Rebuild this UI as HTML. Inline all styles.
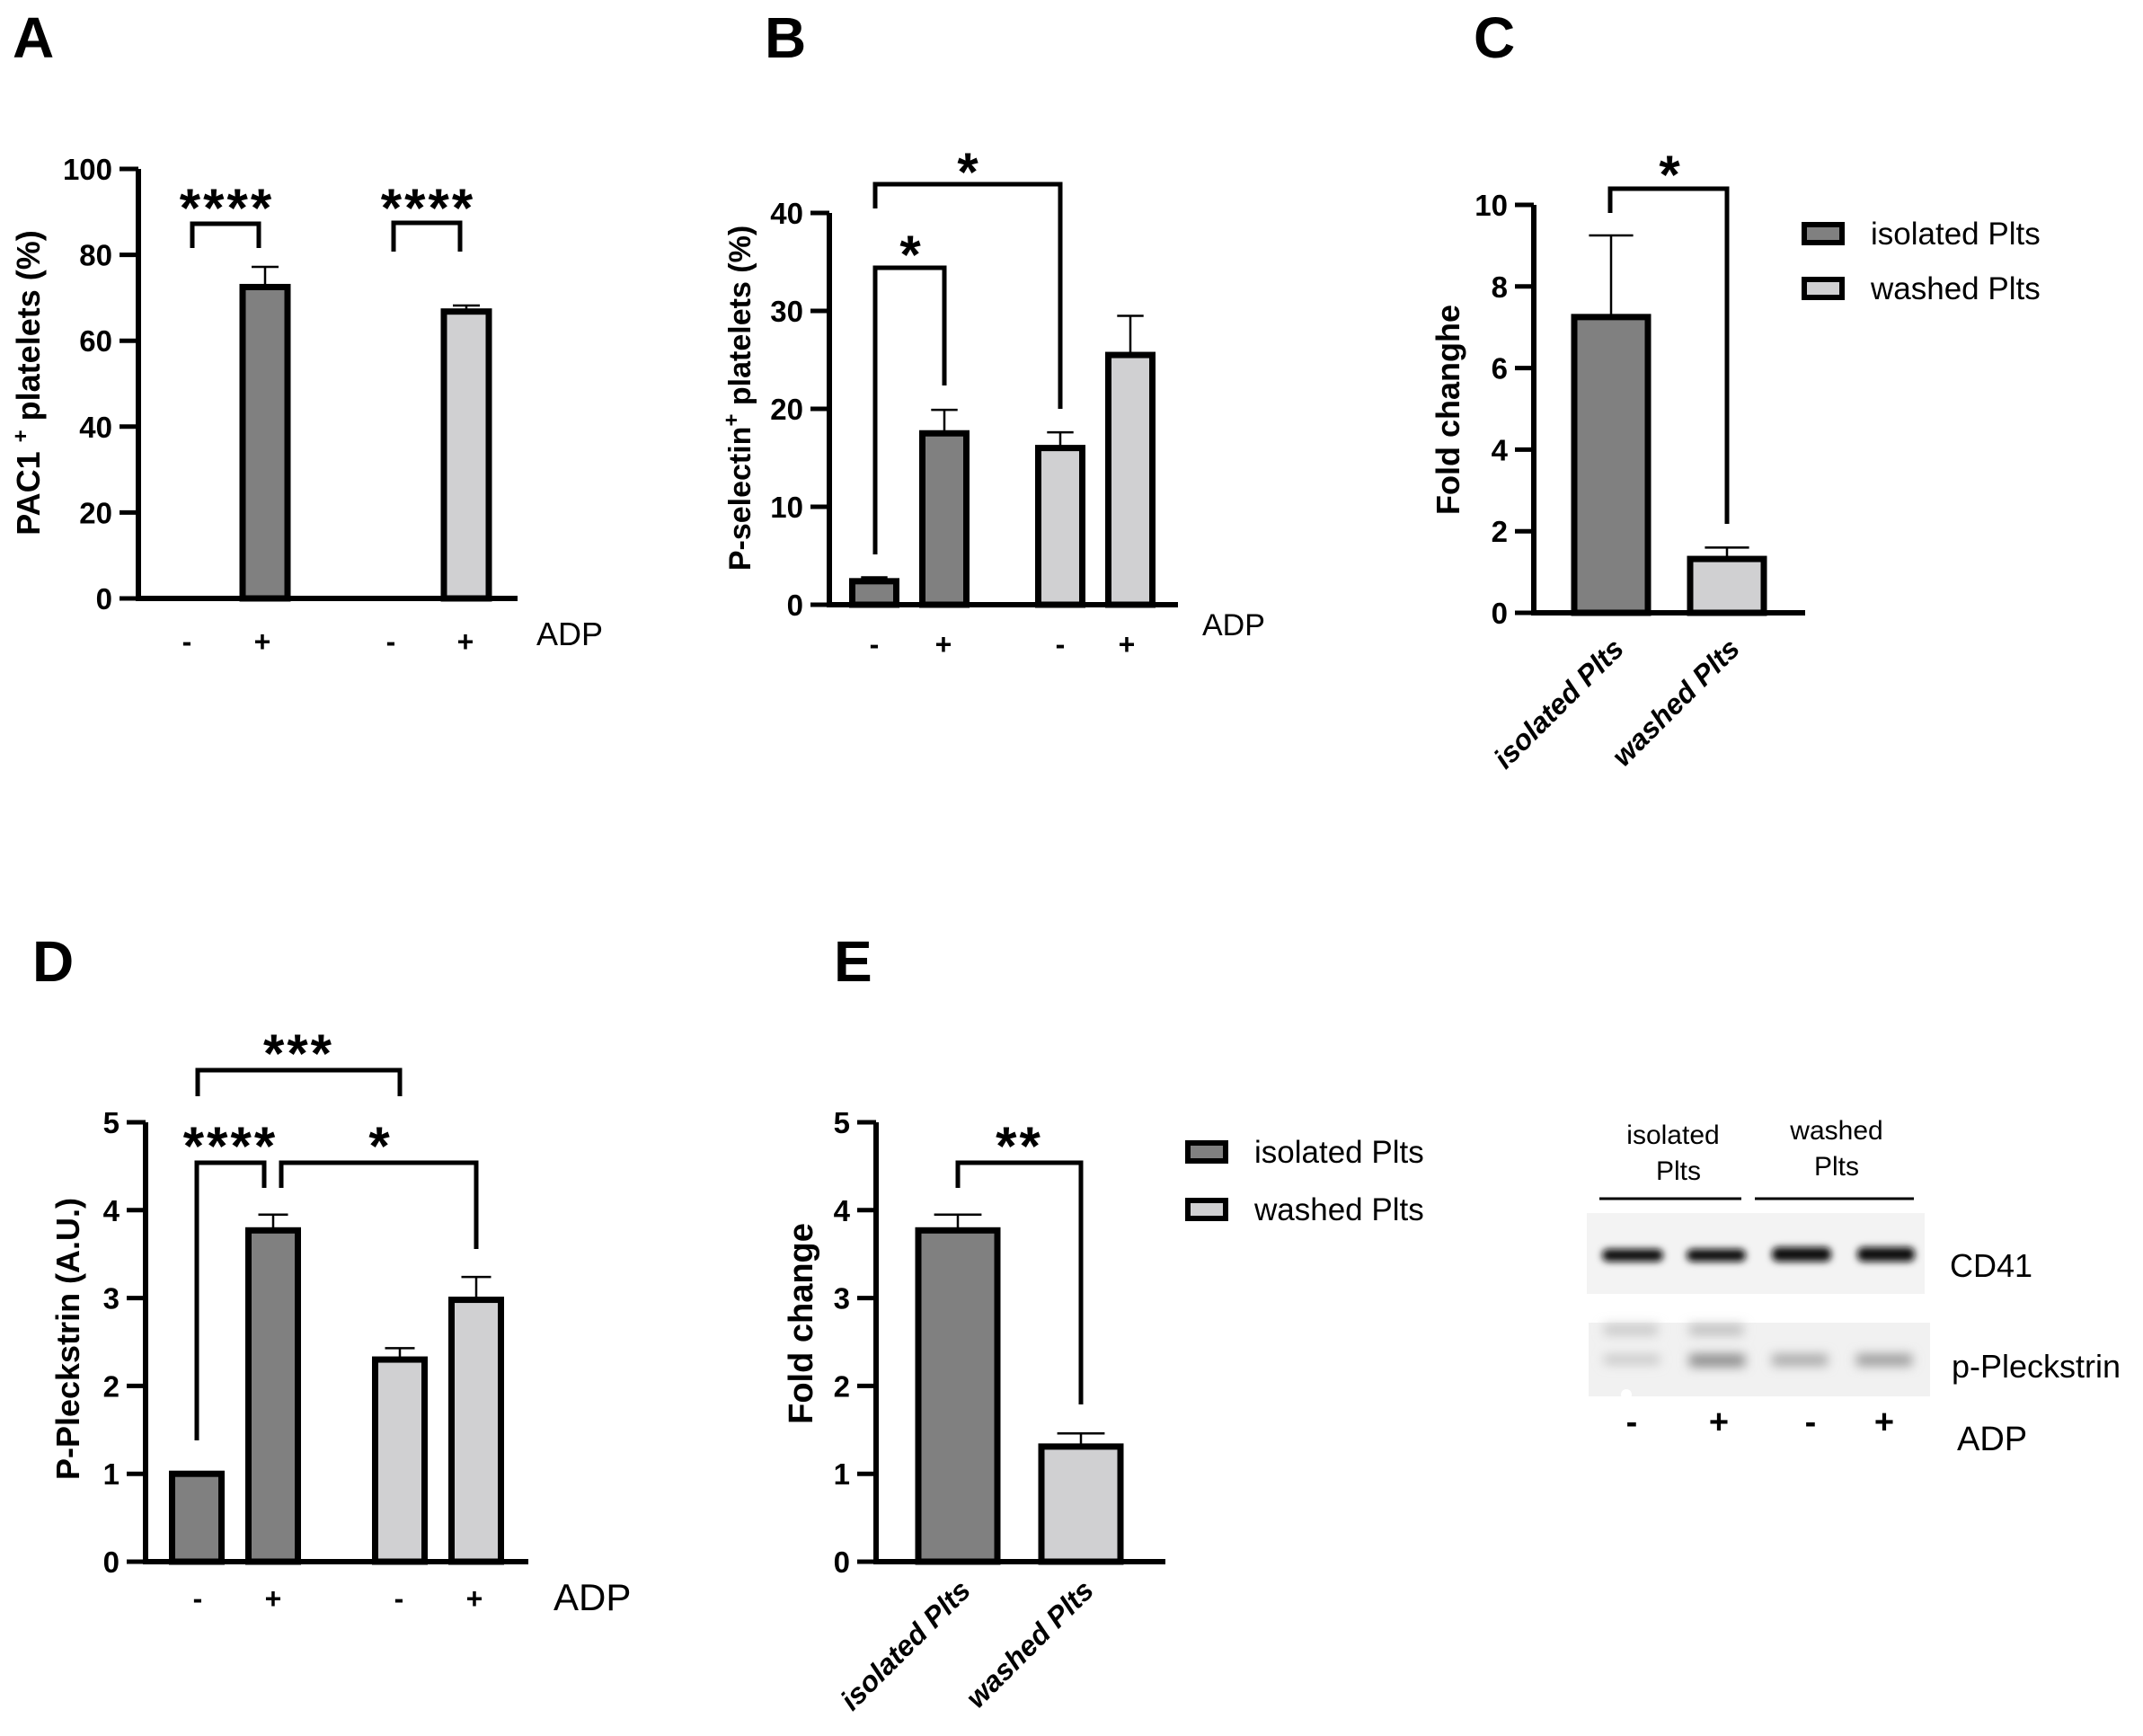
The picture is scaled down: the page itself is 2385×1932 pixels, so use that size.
<!DOCTYPE html>
<html><head><meta charset="utf-8"><style>
html,body{margin:0;padding:0;background:#fff;}
svg{display:block;}
text{font-family:"Liberation Sans",Arial,sans-serif;}
</style></head><body>
<svg id="fig" xmlns="http://www.w3.org/2000/svg" width="2385" height="1932" viewBox="0 0 2385 1932">
<defs><filter id="blur" x="-20%" y="-100%" width="140%" height="300%"><feGaussianBlur stdDeviation="4"/></filter>
<filter id="blur2" x="-20%" y="-100%" width="140%" height="300%"><feGaussianBlur stdDeviation="6"/></filter></defs>
<g id="root"></g>
<!-- Western blot panel F -->
<g>
<text x="1862" y="1273" font-size="30" text-anchor="middle">isolated</text>
<text x="1868" y="1313" font-size="30" text-anchor="middle">Plts</text>
<text x="2044" y="1268" font-size="30" text-anchor="middle">washed</text>
<text x="2044" y="1308" font-size="30" text-anchor="middle">Plts</text>
<line x1="1780" y1="1334" x2="1938" y2="1334" stroke="#000" stroke-width="3"/>
<line x1="1953" y1="1334" x2="2130" y2="1334" stroke="#000" stroke-width="3"/>
<rect x="1766" y="1350" width="376" height="90" fill="#f3f3f3"/>
<g filter="url(#blur)">
<rect x="1783" y="1390" width="68" height="14" rx="7" fill="#111"/>
<rect x="1877" y="1390" width="66" height="14" rx="7" fill="#111"/>
<rect x="1972" y="1388" width="66" height="16" rx="7" fill="#111"/>
<rect x="2067" y="1388" width="64" height="16" rx="7" fill="#111"/>
</g>
<rect x="1768" y="1472" width="380" height="82" fill="#f1f1f1"/>
<g filter="url(#blur2)">
<rect x="1785" y="1474" width="60" height="12" fill="#c8c8c8"/>
<rect x="1880" y="1474" width="60" height="12" fill="#bdbdbd"/>
<rect x="1785" y="1508" width="62" height="10" fill="#c4c4c4"/>
<rect x="1880" y="1507" width="62" height="14" fill="#8a8a8a"/>
<rect x="1972" y="1507" width="62" height="13" fill="#a8a8a8"/>
<rect x="2066" y="1507" width="62" height="13" fill="#9a9a9a"/>
</g>
<circle cx="1810" cy="1552" r="6" fill="#fff"/>
<text x="2170" y="1421" font-size="36">CD41</text>
<text x="2172" y="1533" font-size="36">p-Pleckstrin</text>
<text x="1816" y="1595" font-size="38" font-weight="bold" text-anchor="middle">-</text>
<text x="1913" y="1595" font-size="38" font-weight="bold" text-anchor="middle">+</text>
<text x="2015" y="1595" font-size="38" font-weight="bold" text-anchor="middle">-</text>
<text x="2097" y="1595" font-size="38" font-weight="bold" text-anchor="middle">+</text>
<text x="2178" y="1614" font-size="38">ADP</text>
</g>
</svg>
<script>
// ---- data ----
const aCategories = ['-','+','-','+'];
const aValues = [0, 72.5, 0, 66.8];
const aErrors = [0, 4.7, 0, 1.4];
const aTicks = [0,20,40,60,80,100];

const bCategories = ['-','+','-','+'];
const bValues = [2.4, 17.5, 16.0, 25.5];
const bErrors = [0.4, 2.4, 1.6, 4.0];
const bTicks = [0,10,20,30,40];

const cCategories = ['isolated Plts','washed Plts'];
const cValues = [7.25, 1.32];
const cErrors = [2.0, 0.28];
const cTicks = [0,2,4,6,8,10];

const dCategories = ['-','+','-','+'];
const dValues = [1.0, 3.77, 2.3, 2.98];
const dErrors = [0, 0.18, 0.13, 0.26];
const dTicks = [0,1,2,3,4,5];

const eCategories = ['isolated Plts','washed Plts'];
const eValues = [3.77, 1.31];
const eErrors = [0.18, 0.15];
const eTicks = [0,1,2,3,4,5];

const DARK = '#808080', LIGHT = '#d0d0d2';
const NS = 'http://www.w3.org/2000/svg';
const root = document.getElementById('root');

function mk(tag, attrs, parent, txt){
  const e = document.createElementNS(NS, tag);
  for (const k in attrs) e.setAttribute(k, attrs[k]);
  if (txt !== undefined) e.textContent = txt;
  (parent || root).appendChild(e);
  return e;
}

function drawPanel(p){
  const g = mk('g', {});
  
  
  const max = p.ticks[p.ticks.length-1];
  const y = v => p.y0 - v / max * (p.y0 - p.yTop);
  const L = mk('text', {x:p.letter[0], y:p.letter[1], 'font-size':64, 'font-weight':'bold'}, g, p.letterText);
  
  
  p.values.forEach((v, i) => {
    const cx = p.centers[i];
    const top = y(v);
    const r = mk('rect', {x:cx - p.bw/2, y:top, width:p.bw, height:Math.max(0, p.y0 - top), fill:p.colors[i], stroke:'#000', 'stroke-width':7}, g);
    
    
    if (p.errors[i] > 0) {
      const et = y(v + p.errors[i]);
      const eb = mk('path', {d:`M${cx},${top-3}V${et}M${cx - p.bw*0.3},${et}H${cx + p.bw*0.3}`, stroke:'#000', 'stroke-width':2.5, fill:'none'}, g);
      
      
    }
  });
  const ax = mk('path', {d:`M${p.ax},${p.yTop}V${p.y0}H${p.xEnd}`, stroke:'#000', 'stroke-width':6, fill:'none'}, g);
  
  
  p.ticks.forEach(t => {
    const ty = y(t);
    const tk = mk('line', {x1:p.ax - 21, x2:p.ax, y1:ty, y2:ty, stroke:'#000', 'stroke-width':5}, g);
    
    
    const tl = mk('text', {x:p.ax - 29, y:ty + 12, 'font-size':33, 'font-weight':'bold', 'text-anchor':'end'}, g, String(t));
    
    
  });
  const yt = mk('text', {x:0, y:0, 'font-size':p.ytSize || 35, 'font-weight':'bold', 'text-anchor':'middle', transform:`translate(${p.yt[0]},${p.yt[1]}) rotate(-90)`}, g);
  
  
  yt.innerHTML = p.ytHtml;
  p.categories.forEach((c, i) => {
    let t;
    if (p.rotated) {
      t = mk('text', {x:0, y:0, 'font-size':32, 'font-weight':'bold', 'font-style':'italic', 'text-anchor':'end', transform:`translate(${p.centers[i]+16},${p.rotY}) rotate(-45)`}, g, c);
    } else {
      t = mk('text', {x:p.xlab[i], y:p.xlabY, 'font-size':32, 'font-weight':'bold', 'text-anchor':'middle'}, g, c);
    }
    
    
  });
  if (p.adp) {
    const a = mk('text', {x:p.adp[0], y:p.adp[1], 'font-size':p.adp[2]}, g, 'ADP');
    
    
  }
  (p.brackets || []).forEach((b, k) => {
    const br = mk('path', {d:`M${b.x1},${b.b1}V${b.top}H${b.x2}V${b.b2}`, stroke:'#000', 'stroke-width':5, fill:'none'}, g);
    
    
    const st = mk('text', {x:b.sx + 1.5, y:b.sy + 34, 'font-size':60, 'font-weight':'bold', 'text-anchor':'middle', 'letter-spacing':3}, g, b.stars);
    
    
  });
  if (p.legend) {
    const lg = mk('g', {}, g);
    
    
    [['isolated Plts', DARK], ['washed Plts', LIGHT]].forEach((e, i) => {
      const yy = p.legend[1] + i * p.legend[2];
      const sw = mk('rect', {x:p.legend[0], y:yy - 10, width:42, height:20, fill:e[1], stroke:'#000', 'stroke-width':6}, lg);
      
      
      const lt = mk('text', {x:p.legend[0] + 74, y:yy + 12, 'font-size':35}, lg, e[0]);
      
      
    });
  }
}

drawPanel({name:'panel-a', letterText:'A', letter:[14,64], ax:154, y0:666, yTop:188, xEnd:576,
  ticks:aTicks, values:aValues, errors:aErrors, categories:aCategories,
  centers:[208,295,435,519], bw:50, colors:[DARK,DARK,LIGHT,LIGHT],
  xlab:[208,292,435,518], xlabY:725, adp:[597,718,36],
  yt:[44,426], ytHtml:'PAC1 <tspan baseline-shift="super" font-size="24">+</tspan> platelets (%)', ytSize:36,
  brackets:[{x1:214,x2:288,top:249,b1:276,b2:276,stars:'****',sx:251,sy:218},
            {x1:438,x2:512,top:248,b1:280,b2:280,stars:'****',sx:475,sy:218}]});

drawPanel({name:'panel-b', letterText:'B', letter:[851,64], ax:923, y0:673, yTop:237, xEnd:1311,
  ticks:bTicks, values:bValues, errors:bErrors, categories:bCategories,
  centers:[973,1051,1180,1258], bw:49, colors:[DARK,DARK,LIGHT,LIGHT],
  xlab:[973,1050,1180,1254], xlabY:728, adp:[1338,707,34],
  yt:[835,443], ytHtml:'P-selectin<tspan baseline-shift="super" font-size="24">+</tspan> platelets (%)', ytSize:34,
  brackets:[{x1:974,x2:1051,top:298,b1:617,b2:429,stars:'*',sx:1013,sy:270},
            {x1:974,x2:1180,top:205,b1:232,b2:455,stars:'*',sx:1077,sy:178}]});

drawPanel({name:'panel-c', letterText:'C', letter:[1640,64], ax:1707, y0:682, yTop:228, xEnd:2009,
  ticks:cTicks, values:cValues, errors:cErrors, categories:cCategories,
  centers:[1793,1922], bw:82, colors:[DARK,LIGHT], rotated:true, rotY:724,
  yt:[1624,456], ytHtml:'Fold changhe', ytSize:36,
  brackets:[{x1:1792,x2:1922,top:210,b1:237,b2:583,stars:'*',sx:1858,sy:181}],
  legend:[2008,260,61]});

drawPanel({name:'panel-d', letterText:'D', letter:[36,1092], ax:162, y0:1738, yTop:1249, xEnd:588,
  ticks:dTicks, values:dValues, errors:dErrors, categories:dCategories,
  centers:[219,304,445,530], bw:55, colors:[DARK,DARK,LIGHT,LIGHT],
  xlab:[220,304,444,528], xlabY:1790, adp:[616,1792,42],
  yt:[88,1490], ytHtml:'P-Pleckstrin (A.U.)', ytSize:36,
  brackets:[{x1:220,x2:445,top:1191,b1:1220,b2:1220,stars:'***',sx:331,sy:1159},
            {x1:219,x2:294,top:1294,b1:1603,b2:1322,stars:'****',sx:255,sy:1262},
            {x1:313,x2:530,top:1294,b1:1322,b2:1390,stars:'*',sx:422,sy:1262}]});

drawPanel({name:'panel-e', letterText:'E', letter:[928,1092], ax:975, y0:1738, yTop:1249, xEnd:1297,
  ticks:eTicks, values:eValues, errors:eErrors, categories:eCategories,
  centers:[1066,1203], bw:88, colors:[DARK,LIGHT], rotated:true, rotY:1772,
  yt:[904,1473], ytHtml:'Fold change', ytSize:38,
  brackets:[{x1:1066,x2:1203,top:1294,b1:1322,b2:1563,stars:'**',sx:1133,sy:1262}],
  legend:[1322,1282,64]});
</script>
</body></html>
